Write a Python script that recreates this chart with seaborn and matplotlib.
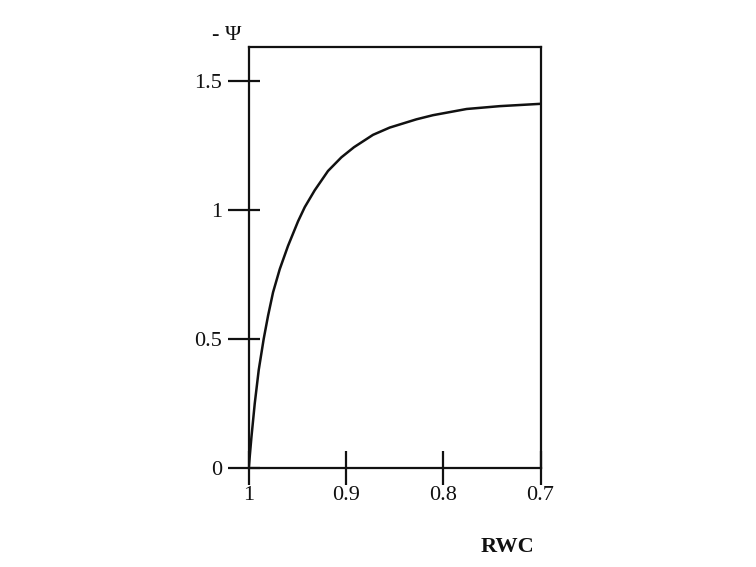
import matplotlib
matplotlib.use("Agg")
import matplotlib.pyplot as plt
from matplotlib.ticker import FixedLocator
import seaborn as sns
import pandas as pd

# Data
rwc = [1.0, 0.9972, 0.9938, 0.9897, 0.9846, 0.9801, 0.9750, 0.9681, 0.9596,
       0.9493, 0.9424, 0.9322, 0.9185, 0.9047, 0.8918, 0.8722, 0.8551,
       0.8276, 0.8106, 0.776, 0.742, 0.70]
psi = [0.0, 0.12, 0.25, 0.38, 0.50, 0.59, 0.68, 0.77, 0.86,
       0.955, 1.01, 1.075, 1.15, 1.203, 1.242, 1.29, 1.318,
       1.35, 1.366, 1.39, 1.401, 1.41]
x_ticks = [1.0, 0.9, 0.8, 0.7]
x_ticklabels = ["1", "0.9", "0.8", "0.7"]
y_ticks = [0, 0.5, 1, 1.5]
y_ticklabels = ["0", "0.5", "1", "1.5"]

sns.set_style("white")
plt.rcParams['font.family'] = ['Liberation Serif', 'DejaVu Serif']

df = pd.DataFrame({"RWC": rwc, "psi": psi})

fig = plt.figure(figsize=(7.56, 5.67), dpi=100)
ax = fig.add_axes([0.329, 0.1746, 0.386, 0.7425])
sns.lineplot(data=df, x="RWC", y="psi", ax=ax, color="#111111", linewidth=1.8,
             sort=False, solid_joinstyle="round")

ax.set_xlim(1.0, 0.7)
ax.set_ylim(0, 1.63)
ax.set_xticks(x_ticks)
ax.set_xticklabels(x_ticklabels)
ax.set_yticks(y_ticks)
ax.set_yticklabels(y_ticklabels)
ax.yaxis.set_minor_locator(FixedLocator(y_ticks))
ax.yaxis.remove_overlapping_locs = False
ax.set_xlabel("")
ax.set_ylabel("")

for s in ax.spines.values():
    s.set_color("#111111")
    s.set_linewidth(1.6)
    s.set_visible(True)

ax.tick_params(axis="x", direction="inout", length=24, width=1.6, pad=1,
               labelsize=16, colors="#111111", bottom=True)
ax.tick_params(axis="y", which="major", direction="out", length=15, width=1.6, pad=4,
               labelsize=16, colors="#111111", left=True)
ax.tick_params(axis="y", which="minor", direction="in", length=8, width=1.6,
               colors="#111111", left=True)

fig.text(0.300, 0.938, "- Ψ", fontsize=16, ha="center", va="center", color="#111111")
fig.text(0.671, 0.036, "RWC", fontsize=16, fontweight="bold", ha="center", va="center", color="#111111")

fig.savefig("out.png", dpi=100, facecolor="white")
